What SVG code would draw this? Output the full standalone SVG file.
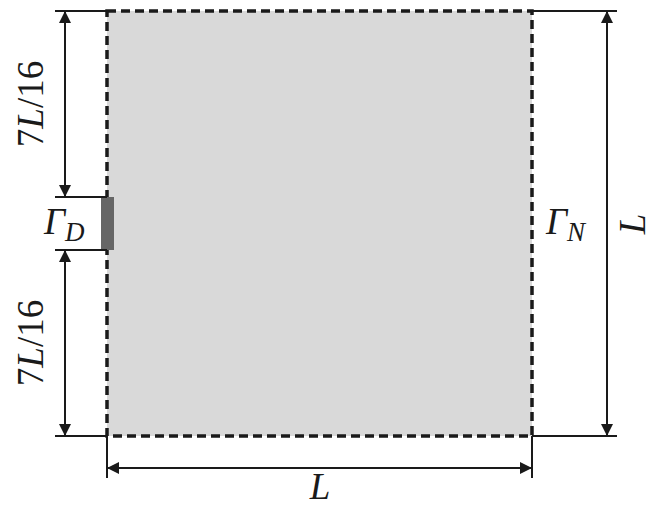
<svg xmlns="http://www.w3.org/2000/svg" width="655" height="507" viewBox="0 0 655 507">
<style>
.ext{stroke:#1a1a1a;stroke-width:2;fill:none}
.dim{stroke:#1a1a1a;stroke-width:2;fill:none;marker-start:url(#a);marker-end:url(#a)}
.t{font-family:"Liberation Serif","DejaVu Serif",serif;font-style:italic;font-size:37px;fill:#1a1a1a}
.n{font-style:normal}
</style>
<defs>
<marker id="a" viewBox="0 0 12 12" refX="12" refY="6" markerWidth="12" markerHeight="12" markerUnits="userSpaceOnUse" orient="auto-start-reverse">
<path d="M0,0 L12,6 L0,12 Z" fill="#1a1a1a"/>
</marker>
</defs>
<g id="domain">
<rect x="107" y="11" width="425" height="425" fill="#d9d9d9" stroke="#1a1a1a" stroke-width="3.5" stroke-dasharray="9,5"/>
</g>
<g id="gammaD">
<rect x="101" y="197" width="13" height="53" fill="#666"/>
<text class="t" x="44" y="234">Γ<tspan font-size="27" dy="7">D</tspan></text>
</g>
<g id="gammaN">
<text class="t" x="546" y="234">Γ<tspan font-size="27" dy="7">N</tspan></text>
</g>
<g id="connectors">
<path class="ext" d="M55,11H107M55,197H107M55,250H107M55,436H107M532,11H617M532,436H617M107,436V478M532,436V478"/>
<line class="dim" x1="65" y1="11" x2="65" y2="197"/>
<line class="dim" x1="65" y1="250" x2="65" y2="436"/>
<line class="dim" x1="607" y1="11" x2="607" y2="436"/>
<line class="dim" x1="107" y1="468" x2="532" y2="468"/>
</g>
<g id="labels">
<text class="t" transform="translate(43,104) rotate(-90)" text-anchor="middle" font-size="42"><tspan class="n">7</tspan>L<tspan class="n">/16</tspan></text>
<text class="t" transform="translate(43,343) rotate(-90)" text-anchor="middle" font-size="42"><tspan class="n">7</tspan>L<tspan class="n">/16</tspan></text>
<text class="t" transform="translate(645,224) rotate(-90)" text-anchor="middle">L</text>
<text class="t" x="320" y="499" text-anchor="middle">L</text>
</g>
</svg>
